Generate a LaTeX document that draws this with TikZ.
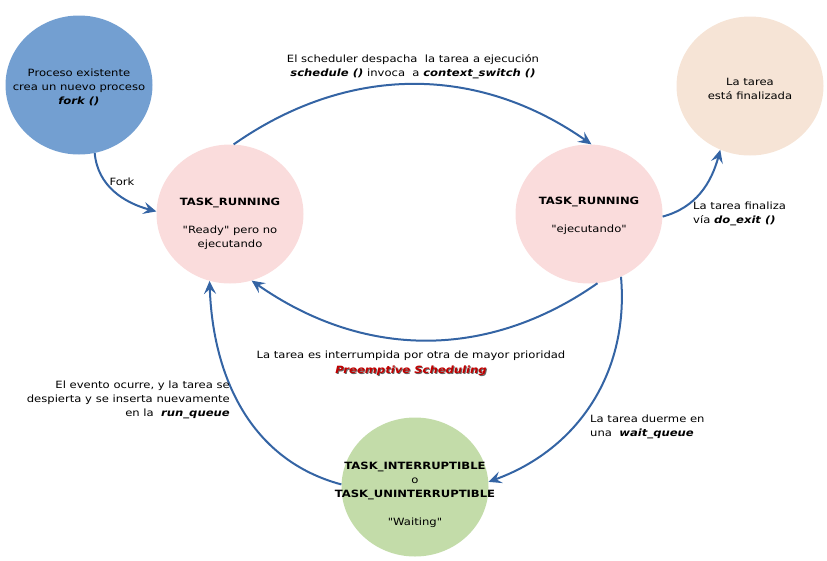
\documentclass[tikz,border=0pt]{standalone}
\usepackage{fontspec}
\setmainfont{DejaVu Sans}[FakeStretch=1.16, Ligatures=TeXOff]
\usetikzlibrary{shapes.geometric,arrows.meta}
\definecolor{cblue}{HTML}{739FD1}
\definecolor{cpink}{HTML}{FADCDC}
\definecolor{cbeige}{HTML}{F6E4D6}
\definecolor{cgreen}{HTML}{C3DCA9}
\definecolor{carrow}{HTML}{3464A4}
\definecolor{cred}{HTML}{C00000}
\tikzset{
  state/.style={ellipse, inner sep=0pt, minimum width=147pt, minimum height=139pt},
  txt/.style={font=\fontsize{10}{14}\selectfont, align=center, inner sep=0pt},
  conn/.style={draw=carrow, line width=2pt, -{Stealth[length=13pt,width=12pt,inset=5pt]}},
}
\begin{document}
\begin{tikzpicture}[x=1pt,y=-1pt]
\useasboundingbox (0,0) rectangle (827,560);
% states
\node[state, fill=cblue] (fork) at (79,85) {};
\node[state, fill=cpink] (ready) at (230,214) {};
\node[state, fill=cpink] (running) at (589,214) {};
\node[state, fill=cbeige] (done) at (750,86) {};
\node[state, fill=cgreen] (waiting) at (415,487) {};
% state texts
\node[txt] (forkt) at (79,87) {Proceso existente\\crea un nuevo proceso\\\textbf{\textit{fork ()}}};
\node[txt] (readyt) at (230,224) {\textbf{TASK\_RUNNING}\\[14pt]"Ready" pero no\\ ejecutando};
\node[txt] (runningt) at (589,216) {\textbf{TASK\_RUNNING}\\[14pt]"ejecutando"};
\node[txt] (donet) at (750,89) {La tarea\\está finalizada};
\node[txt] (waitingt) at (415,495) {\textbf{TASK\_INTERRUPTIBLE}\\o\\\textbf{TASK\_UNINTERRUPTIBLE}\\[14pt]"Waiting"};
% connectors
\draw[conn] (fork.-77) to[out=-85,in=165] (ready.178);
\draw[conn] (ready.87) to[out=35,in=145] (running.88);
\draw[conn] (running.-2) to[out=15,in=-105] (done.-115);
\draw[conn] (running.-83) to[out=-145,in=-35] (ready.-72);
\draw[conn] (running.-63) to[out=-85,in=20] (waiting.4);
\draw[conn] (waiting.178) to[out=165,in=-88] (ready.-107);
% labels
\node[txt] (lfork) at (122,182) {Fork};
\node[txt] (lsched) at (413,67) {El scheduler despacha\ \ la tarea a ejecución\\\textbf{\textit{schedule ()}} invoca\ \ a \textbf{\textit{context\_switch ()}}};
\node[txt, anchor=west, align=left] (lexit) at (693,214) {La tarea finaliza\\vía \textbf{\textit{do\_exit ()}}};
\node[txt] (lpre) at (411,356) {La tarea es interrumpida por otra de mayor prioridad};
\node[txt, text=black!60] (lpreshadow) at (412,372) {\textbf{\textit{Preemptive Scheduling}}};
\node[txt, text=cred] (lpre2) at (411,371) {\textbf{\textit{Preemptive Scheduling}}};
\node[txt, anchor=west, align=left] (lsleep) at (590,427) {La tarea duerme en\\una\ \ \textbf{\textit{wait\_queue}}};
\node[txt, anchor=east, align=right] (lwake) at (230,400) {El evento ocurre, y la tarea se\\despierta y se inserta nuevamente\\en la\ \ \textbf{\textit{run\_queue}}};
\end{tikzpicture}
\end{document}
